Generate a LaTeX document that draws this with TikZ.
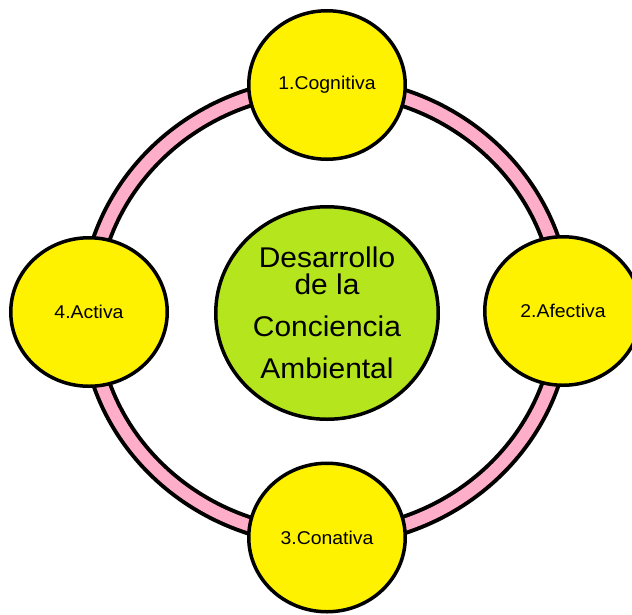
\documentclass[tikz,border=0pt]{standalone}
\usepackage{fontspec}
\setmainfont{Liberation Sans}[FakeStretch=1.05]
\usetikzlibrary{shapes.geometric}
\definecolor{cyel}{HTML}{FFF200}
\definecolor{clime}{HTML}{B5E61D}
\definecolor{cpink}{HTML}{FFAEC9}
\begin{document}
\begin{tikzpicture}[x=1pt,y=-1pt,
  smallnode/.style={ellipse, draw=black, line width=3.5pt, fill=cyel,
    minimum width=156.5pt, minimum height=148.5pt, inner sep=0pt,
    font=\fontsize{18.5}{22}\selectfont},
  centernode/.style={ellipse, draw=black, line width=3.5pt, fill=clime,
    minimum width=222.5pt, minimum height=212.5pt, inner sep=0pt,
    align=center, font=\fontsize{28.5}{27}\selectfont}]
\useasboundingbox (0,0) rectangle (632,614);
\clip (0,0) rectangle (632,614);
\fill[white] (0,0) rectangle (632,614);
\draw[black, line width=20pt] (326,311.5) ellipse [x radius=237pt, y radius=226pt];
\draw[cpink, line width=12pt] (326,311.5) ellipse [x radius=237pt, y radius=226pt];
\node[smallnode] (cog) at (327,85) {1.Cognitiva};
\node[smallnode] (afe) at (563,311) {2.Afectiva};
\node[smallnode] (con) at (327,537.5) {3.Conativa};
\node[smallnode] (act) at (89,312) {4.Activa};
\node[centernode] (amb) at (327,313) {Desarrollo\\de la\\[15pt]Conciencia\\[15pt]Ambiental};
\end{tikzpicture}
\end{document}
